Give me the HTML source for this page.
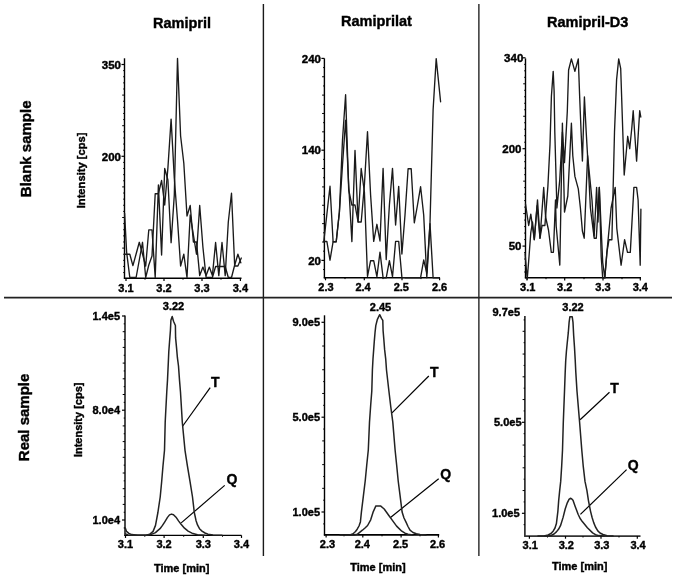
<!DOCTYPE html>
<html><head><meta charset="utf-8"><style>
html,body{margin:0;padding:0;background:#fff;}
svg{display:block;will-change:transform;font-family:"Liberation Sans",sans-serif;}
text{stroke:#000;stroke-width:0.4px;}
</style></head><body>
<svg width="676" height="579" viewBox="0 0 676 579">
<rect width="676" height="579" fill="#fff"/>
<line x1="263.40" y1="4.00" x2="263.40" y2="556.00" stroke="#1a1a1a" stroke-width="1.4"/>
<line x1="478.87" y1="4.00" x2="478.87" y2="556.00" stroke="#333" stroke-width="1.5"/>
<line x1="4.00" y1="297.65" x2="672.00" y2="297.65" stroke="#222" stroke-width="1.6"/>
<text x="153.00" y="28.00" font-size="14.5" text-anchor="start" font-weight="bold" >Ramipril</text>
<text x="341.00" y="26.00" font-size="14.5" text-anchor="start" font-weight="bold" >Ramiprilat</text>
<text x="547.00" y="27.00" font-size="14.5" text-anchor="start" font-weight="bold" >Ramipril-D3</text>
<text transform="translate(31.2,197.2) rotate(-90)" font-size="15" font-weight="bold">Blank sample</text>
<text transform="translate(28.6,461.2) rotate(-90)" font-size="15" font-weight="bold">Real sample</text>
<text transform="translate(85,208.3) rotate(-90)" font-size="11.2" font-weight="bold">Intensity [cps]</text>
<text transform="translate(82,457.1) rotate(-90)" font-size="11" font-weight="bold">Intensity [cps]</text>
<line x1="124.50" y1="58.30" x2="124.50" y2="278.90" stroke="#000" stroke-width="1.4"/>
<line x1="123.90" y1="278.30" x2="241.50" y2="278.30" stroke="#000" stroke-width="1.4"/>
<line x1="126.00" y1="278.30" x2="126.00" y2="280.90" stroke="#000" stroke-width="1.2"/>
<line x1="164.00" y1="278.30" x2="164.00" y2="280.90" stroke="#000" stroke-width="1.2"/>
<line x1="202.00" y1="278.30" x2="202.00" y2="280.90" stroke="#000" stroke-width="1.2"/>
<line x1="240.40" y1="278.30" x2="240.40" y2="280.90" stroke="#000" stroke-width="1.2"/>
<line x1="145.00" y1="278.30" x2="145.00" y2="279.70" stroke="#000" stroke-width="1.0"/>
<line x1="183.00" y1="278.30" x2="183.00" y2="279.70" stroke="#000" stroke-width="1.0"/>
<line x1="221.00" y1="278.30" x2="221.00" y2="279.70" stroke="#000" stroke-width="1.0"/>
<line x1="121.50" y1="64.50" x2="124.50" y2="64.50" stroke="#000" stroke-width="1.2"/>
<line x1="121.50" y1="156.30" x2="124.50" y2="156.30" stroke="#000" stroke-width="1.2"/>
<line x1="123.20" y1="272.58" x2="124.50" y2="272.58" stroke="#000" stroke-width="1.0"/>
<line x1="123.20" y1="266.46" x2="124.50" y2="266.46" stroke="#000" stroke-width="1.0"/>
<line x1="123.20" y1="260.34" x2="124.50" y2="260.34" stroke="#000" stroke-width="1.0"/>
<line x1="123.20" y1="254.22" x2="124.50" y2="254.22" stroke="#000" stroke-width="1.0"/>
<line x1="122.20" y1="248.10" x2="124.50" y2="248.10" stroke="#000" stroke-width="1.0"/>
<line x1="123.20" y1="241.98" x2="124.50" y2="241.98" stroke="#000" stroke-width="1.0"/>
<line x1="123.20" y1="235.86" x2="124.50" y2="235.86" stroke="#000" stroke-width="1.0"/>
<line x1="123.20" y1="229.74" x2="124.50" y2="229.74" stroke="#000" stroke-width="1.0"/>
<line x1="123.20" y1="223.62" x2="124.50" y2="223.62" stroke="#000" stroke-width="1.0"/>
<line x1="122.20" y1="217.50" x2="124.50" y2="217.50" stroke="#000" stroke-width="1.0"/>
<line x1="123.20" y1="211.38" x2="124.50" y2="211.38" stroke="#000" stroke-width="1.0"/>
<line x1="123.20" y1="205.26" x2="124.50" y2="205.26" stroke="#000" stroke-width="1.0"/>
<line x1="123.20" y1="199.14" x2="124.50" y2="199.14" stroke="#000" stroke-width="1.0"/>
<line x1="123.20" y1="193.02" x2="124.50" y2="193.02" stroke="#000" stroke-width="1.0"/>
<line x1="122.20" y1="186.90" x2="124.50" y2="186.90" stroke="#000" stroke-width="1.0"/>
<line x1="123.20" y1="180.78" x2="124.50" y2="180.78" stroke="#000" stroke-width="1.0"/>
<line x1="123.20" y1="174.66" x2="124.50" y2="174.66" stroke="#000" stroke-width="1.0"/>
<line x1="123.20" y1="168.54" x2="124.50" y2="168.54" stroke="#000" stroke-width="1.0"/>
<line x1="123.20" y1="162.42" x2="124.50" y2="162.42" stroke="#000" stroke-width="1.0"/>
<line x1="123.20" y1="150.18" x2="124.50" y2="150.18" stroke="#000" stroke-width="1.0"/>
<line x1="123.20" y1="144.06" x2="124.50" y2="144.06" stroke="#000" stroke-width="1.0"/>
<line x1="123.20" y1="137.94" x2="124.50" y2="137.94" stroke="#000" stroke-width="1.0"/>
<line x1="123.20" y1="131.82" x2="124.50" y2="131.82" stroke="#000" stroke-width="1.0"/>
<line x1="122.20" y1="125.70" x2="124.50" y2="125.70" stroke="#000" stroke-width="1.0"/>
<line x1="123.20" y1="119.58" x2="124.50" y2="119.58" stroke="#000" stroke-width="1.0"/>
<line x1="123.20" y1="113.46" x2="124.50" y2="113.46" stroke="#000" stroke-width="1.0"/>
<line x1="123.20" y1="107.34" x2="124.50" y2="107.34" stroke="#000" stroke-width="1.0"/>
<line x1="123.20" y1="101.22" x2="124.50" y2="101.22" stroke="#000" stroke-width="1.0"/>
<line x1="122.20" y1="95.10" x2="124.50" y2="95.10" stroke="#000" stroke-width="1.0"/>
<line x1="123.20" y1="88.98" x2="124.50" y2="88.98" stroke="#000" stroke-width="1.0"/>
<line x1="123.20" y1="82.86" x2="124.50" y2="82.86" stroke="#000" stroke-width="1.0"/>
<line x1="123.20" y1="76.74" x2="124.50" y2="76.74" stroke="#000" stroke-width="1.0"/>
<line x1="123.20" y1="70.62" x2="124.50" y2="70.62" stroke="#000" stroke-width="1.0"/>
<text x="126.00" y="291.80" font-size="11" text-anchor="middle" font-weight="bold" >3.1</text>
<text x="164.00" y="291.80" font-size="11" text-anchor="middle" font-weight="bold" >3.2</text>
<text x="202.00" y="291.80" font-size="11" text-anchor="middle" font-weight="bold" >3.3</text>
<text x="240.40" y="291.80" font-size="11" text-anchor="middle" font-weight="bold" >3.4</text>
<text x="121.00" y="68.70" font-size="11.5" text-anchor="end" font-weight="bold" >350</text>
<text x="121.00" y="160.50" font-size="11.5" text-anchor="end" font-weight="bold" >200</text>
<line x1="324.40" y1="58.40" x2="324.40" y2="278.30" stroke="#000" stroke-width="1.4"/>
<line x1="323.80" y1="277.70" x2="440.00" y2="277.70" stroke="#000" stroke-width="1.4"/>
<line x1="325.50" y1="277.70" x2="325.50" y2="280.30" stroke="#000" stroke-width="1.2"/>
<line x1="364.30" y1="277.70" x2="364.30" y2="280.30" stroke="#000" stroke-width="1.2"/>
<line x1="402.00" y1="277.70" x2="402.00" y2="280.30" stroke="#000" stroke-width="1.2"/>
<line x1="439.60" y1="277.70" x2="439.60" y2="280.30" stroke="#000" stroke-width="1.2"/>
<line x1="345.00" y1="277.70" x2="345.00" y2="279.10" stroke="#000" stroke-width="1.0"/>
<line x1="383.00" y1="277.70" x2="383.00" y2="279.10" stroke="#000" stroke-width="1.0"/>
<line x1="421.00" y1="277.70" x2="421.00" y2="279.10" stroke="#000" stroke-width="1.0"/>
<line x1="321.40" y1="58.40" x2="324.40" y2="58.40" stroke="#000" stroke-width="1.2"/>
<line x1="321.40" y1="150.20" x2="324.40" y2="150.20" stroke="#000" stroke-width="1.2"/>
<line x1="321.40" y1="260.40" x2="324.40" y2="260.40" stroke="#000" stroke-width="1.2"/>
<line x1="323.10" y1="269.54" x2="324.40" y2="269.54" stroke="#000" stroke-width="1.0"/>
<line x1="323.10" y1="251.18" x2="324.40" y2="251.18" stroke="#000" stroke-width="1.0"/>
<line x1="322.10" y1="242.00" x2="324.40" y2="242.00" stroke="#000" stroke-width="1.0"/>
<line x1="323.10" y1="232.82" x2="324.40" y2="232.82" stroke="#000" stroke-width="1.0"/>
<line x1="322.10" y1="223.64" x2="324.40" y2="223.64" stroke="#000" stroke-width="1.0"/>
<line x1="323.10" y1="214.46" x2="324.40" y2="214.46" stroke="#000" stroke-width="1.0"/>
<line x1="322.10" y1="205.28" x2="324.40" y2="205.28" stroke="#000" stroke-width="1.0"/>
<line x1="323.10" y1="196.10" x2="324.40" y2="196.10" stroke="#000" stroke-width="1.0"/>
<line x1="322.10" y1="186.92" x2="324.40" y2="186.92" stroke="#000" stroke-width="1.0"/>
<line x1="323.10" y1="177.74" x2="324.40" y2="177.74" stroke="#000" stroke-width="1.0"/>
<line x1="322.10" y1="168.56" x2="324.40" y2="168.56" stroke="#000" stroke-width="1.0"/>
<line x1="323.10" y1="159.38" x2="324.40" y2="159.38" stroke="#000" stroke-width="1.0"/>
<line x1="323.10" y1="141.02" x2="324.40" y2="141.02" stroke="#000" stroke-width="1.0"/>
<line x1="322.10" y1="131.84" x2="324.40" y2="131.84" stroke="#000" stroke-width="1.0"/>
<line x1="323.10" y1="122.66" x2="324.40" y2="122.66" stroke="#000" stroke-width="1.0"/>
<line x1="322.10" y1="113.48" x2="324.40" y2="113.48" stroke="#000" stroke-width="1.0"/>
<line x1="323.10" y1="104.30" x2="324.40" y2="104.30" stroke="#000" stroke-width="1.0"/>
<line x1="322.10" y1="95.12" x2="324.40" y2="95.12" stroke="#000" stroke-width="1.0"/>
<line x1="323.10" y1="85.94" x2="324.40" y2="85.94" stroke="#000" stroke-width="1.0"/>
<line x1="322.10" y1="76.76" x2="324.40" y2="76.76" stroke="#000" stroke-width="1.0"/>
<line x1="323.10" y1="67.58" x2="324.40" y2="67.58" stroke="#000" stroke-width="1.0"/>
<text x="326.00" y="290.80" font-size="11" text-anchor="middle" font-weight="bold" >2.3</text>
<text x="363.10" y="290.80" font-size="11" text-anchor="middle" font-weight="bold" >2.4</text>
<text x="401.30" y="290.80" font-size="11" text-anchor="middle" font-weight="bold" >2.5</text>
<text x="439.60" y="290.80" font-size="11" text-anchor="middle" font-weight="bold" >2.6</text>
<text x="321.00" y="62.60" font-size="11.5" text-anchor="end" font-weight="bold" >240</text>
<text x="321.00" y="154.40" font-size="11.5" text-anchor="end" font-weight="bold" >140</text>
<text x="321.00" y="264.60" font-size="11.5" text-anchor="end" font-weight="bold" >20</text>
<line x1="525.50" y1="58.40" x2="525.50" y2="278.40" stroke="#000" stroke-width="1.4"/>
<line x1="524.90" y1="277.80" x2="641.00" y2="277.80" stroke="#000" stroke-width="1.4"/>
<line x1="527.00" y1="277.80" x2="527.00" y2="280.40" stroke="#000" stroke-width="1.2"/>
<line x1="564.70" y1="277.80" x2="564.70" y2="280.40" stroke="#000" stroke-width="1.2"/>
<line x1="603.00" y1="277.80" x2="603.00" y2="280.40" stroke="#000" stroke-width="1.2"/>
<line x1="640.30" y1="277.80" x2="640.30" y2="280.40" stroke="#000" stroke-width="1.2"/>
<line x1="546.00" y1="277.80" x2="546.00" y2="279.20" stroke="#000" stroke-width="1.0"/>
<line x1="584.00" y1="277.80" x2="584.00" y2="279.20" stroke="#000" stroke-width="1.0"/>
<line x1="622.00" y1="277.80" x2="622.00" y2="279.20" stroke="#000" stroke-width="1.0"/>
<line x1="522.50" y1="57.80" x2="525.50" y2="57.80" stroke="#000" stroke-width="1.2"/>
<line x1="522.50" y1="148.70" x2="525.50" y2="148.70" stroke="#000" stroke-width="1.2"/>
<line x1="522.50" y1="246.10" x2="525.50" y2="246.10" stroke="#000" stroke-width="1.2"/>
<line x1="524.20" y1="272.01" x2="525.50" y2="272.01" stroke="#000" stroke-width="1.0"/>
<line x1="524.20" y1="265.52" x2="525.50" y2="265.52" stroke="#000" stroke-width="1.0"/>
<line x1="524.20" y1="259.03" x2="525.50" y2="259.03" stroke="#000" stroke-width="1.0"/>
<line x1="524.20" y1="252.54" x2="525.50" y2="252.54" stroke="#000" stroke-width="1.0"/>
<line x1="524.20" y1="239.56" x2="525.50" y2="239.56" stroke="#000" stroke-width="1.0"/>
<line x1="524.20" y1="233.07" x2="525.50" y2="233.07" stroke="#000" stroke-width="1.0"/>
<line x1="524.20" y1="226.58" x2="525.50" y2="226.58" stroke="#000" stroke-width="1.0"/>
<line x1="524.20" y1="220.09" x2="525.50" y2="220.09" stroke="#000" stroke-width="1.0"/>
<line x1="523.20" y1="213.60" x2="525.50" y2="213.60" stroke="#000" stroke-width="1.0"/>
<line x1="524.20" y1="207.11" x2="525.50" y2="207.11" stroke="#000" stroke-width="1.0"/>
<line x1="524.20" y1="200.62" x2="525.50" y2="200.62" stroke="#000" stroke-width="1.0"/>
<line x1="524.20" y1="194.13" x2="525.50" y2="194.13" stroke="#000" stroke-width="1.0"/>
<line x1="524.20" y1="187.64" x2="525.50" y2="187.64" stroke="#000" stroke-width="1.0"/>
<line x1="523.20" y1="181.15" x2="525.50" y2="181.15" stroke="#000" stroke-width="1.0"/>
<line x1="524.20" y1="174.66" x2="525.50" y2="174.66" stroke="#000" stroke-width="1.0"/>
<line x1="524.20" y1="168.17" x2="525.50" y2="168.17" stroke="#000" stroke-width="1.0"/>
<line x1="524.20" y1="161.68" x2="525.50" y2="161.68" stroke="#000" stroke-width="1.0"/>
<line x1="524.20" y1="155.19" x2="525.50" y2="155.19" stroke="#000" stroke-width="1.0"/>
<line x1="524.20" y1="142.21" x2="525.50" y2="142.21" stroke="#000" stroke-width="1.0"/>
<line x1="524.20" y1="135.72" x2="525.50" y2="135.72" stroke="#000" stroke-width="1.0"/>
<line x1="524.20" y1="129.23" x2="525.50" y2="129.23" stroke="#000" stroke-width="1.0"/>
<line x1="524.20" y1="122.74" x2="525.50" y2="122.74" stroke="#000" stroke-width="1.0"/>
<line x1="523.20" y1="116.25" x2="525.50" y2="116.25" stroke="#000" stroke-width="1.0"/>
<line x1="524.20" y1="109.76" x2="525.50" y2="109.76" stroke="#000" stroke-width="1.0"/>
<line x1="524.20" y1="103.27" x2="525.50" y2="103.27" stroke="#000" stroke-width="1.0"/>
<line x1="524.20" y1="96.78" x2="525.50" y2="96.78" stroke="#000" stroke-width="1.0"/>
<line x1="524.20" y1="90.29" x2="525.50" y2="90.29" stroke="#000" stroke-width="1.0"/>
<line x1="523.20" y1="83.80" x2="525.50" y2="83.80" stroke="#000" stroke-width="1.0"/>
<line x1="524.20" y1="77.31" x2="525.50" y2="77.31" stroke="#000" stroke-width="1.0"/>
<line x1="524.20" y1="70.82" x2="525.50" y2="70.82" stroke="#000" stroke-width="1.0"/>
<line x1="524.20" y1="64.33" x2="525.50" y2="64.33" stroke="#000" stroke-width="1.0"/>
<text x="527.70" y="290.80" font-size="11" text-anchor="middle" font-weight="bold" >3.1</text>
<text x="564.70" y="290.80" font-size="11" text-anchor="middle" font-weight="bold" >3.2</text>
<text x="603.00" y="290.80" font-size="11" text-anchor="middle" font-weight="bold" >3.3</text>
<text x="640.30" y="290.80" font-size="11" text-anchor="middle" font-weight="bold" >3.4</text>
<text x="523.30" y="62.00" font-size="11.5" text-anchor="end" font-weight="bold" >340</text>
<text x="521.50" y="152.90" font-size="11.5" text-anchor="end" font-weight="bold" >200</text>
<text x="521.50" y="250.30" font-size="11.5" text-anchor="end" font-weight="bold" >50</text>
<line x1="125.00" y1="315.50" x2="125.00" y2="535.95" stroke="#000" stroke-width="1.4"/>
<line x1="124.40" y1="535.35" x2="241.50" y2="535.35" stroke="#000" stroke-width="1.3"/>
<line x1="125.50" y1="535.35" x2="125.50" y2="537.95" stroke="#000" stroke-width="1.2"/>
<line x1="164.10" y1="535.35" x2="164.10" y2="537.95" stroke="#000" stroke-width="1.2"/>
<line x1="203.30" y1="535.35" x2="203.30" y2="537.95" stroke="#000" stroke-width="1.2"/>
<line x1="241.50" y1="535.35" x2="241.50" y2="537.95" stroke="#000" stroke-width="1.2"/>
<line x1="144.80" y1="535.35" x2="144.80" y2="536.75" stroke="#000" stroke-width="1.0"/>
<line x1="183.70" y1="535.35" x2="183.70" y2="536.75" stroke="#000" stroke-width="1.0"/>
<line x1="222.50" y1="535.35" x2="222.50" y2="536.75" stroke="#000" stroke-width="1.0"/>
<line x1="122.00" y1="316.00" x2="125.00" y2="316.00" stroke="#000" stroke-width="1.2"/>
<line x1="122.00" y1="410.20" x2="125.00" y2="410.20" stroke="#000" stroke-width="1.2"/>
<line x1="122.00" y1="520.00" x2="125.00" y2="520.00" stroke="#000" stroke-width="1.2"/>
<line x1="123.70" y1="323.85" x2="125.00" y2="323.85" stroke="#000" stroke-width="1.0"/>
<line x1="122.70" y1="331.70" x2="125.00" y2="331.70" stroke="#000" stroke-width="1.0"/>
<line x1="123.70" y1="339.55" x2="125.00" y2="339.55" stroke="#000" stroke-width="1.0"/>
<line x1="122.70" y1="347.40" x2="125.00" y2="347.40" stroke="#000" stroke-width="1.0"/>
<line x1="123.70" y1="355.25" x2="125.00" y2="355.25" stroke="#000" stroke-width="1.0"/>
<line x1="122.70" y1="363.10" x2="125.00" y2="363.10" stroke="#000" stroke-width="1.0"/>
<line x1="123.70" y1="370.95" x2="125.00" y2="370.95" stroke="#000" stroke-width="1.0"/>
<line x1="122.70" y1="378.80" x2="125.00" y2="378.80" stroke="#000" stroke-width="1.0"/>
<line x1="123.70" y1="386.65" x2="125.00" y2="386.65" stroke="#000" stroke-width="1.0"/>
<line x1="122.70" y1="394.50" x2="125.00" y2="394.50" stroke="#000" stroke-width="1.0"/>
<line x1="123.70" y1="402.35" x2="125.00" y2="402.35" stroke="#000" stroke-width="1.0"/>
<line x1="123.70" y1="418.05" x2="125.00" y2="418.05" stroke="#000" stroke-width="1.0"/>
<line x1="122.70" y1="425.90" x2="125.00" y2="425.90" stroke="#000" stroke-width="1.0"/>
<line x1="123.70" y1="433.75" x2="125.00" y2="433.75" stroke="#000" stroke-width="1.0"/>
<line x1="122.70" y1="441.60" x2="125.00" y2="441.60" stroke="#000" stroke-width="1.0"/>
<line x1="123.70" y1="449.45" x2="125.00" y2="449.45" stroke="#000" stroke-width="1.0"/>
<line x1="122.70" y1="457.30" x2="125.00" y2="457.30" stroke="#000" stroke-width="1.0"/>
<line x1="123.70" y1="465.15" x2="125.00" y2="465.15" stroke="#000" stroke-width="1.0"/>
<line x1="122.70" y1="473.00" x2="125.00" y2="473.00" stroke="#000" stroke-width="1.0"/>
<line x1="123.70" y1="480.85" x2="125.00" y2="480.85" stroke="#000" stroke-width="1.0"/>
<line x1="122.70" y1="488.70" x2="125.00" y2="488.70" stroke="#000" stroke-width="1.0"/>
<line x1="123.70" y1="496.55" x2="125.00" y2="496.55" stroke="#000" stroke-width="1.0"/>
<line x1="122.70" y1="504.40" x2="125.00" y2="504.40" stroke="#000" stroke-width="1.0"/>
<line x1="123.70" y1="512.25" x2="125.00" y2="512.25" stroke="#000" stroke-width="1.0"/>
<line x1="123.70" y1="527.95" x2="125.00" y2="527.95" stroke="#000" stroke-width="1.0"/>
<text x="125.50" y="548.20" font-size="11" text-anchor="middle" font-weight="bold" >3.1</text>
<text x="164.10" y="548.20" font-size="11" text-anchor="middle" font-weight="bold" >3.2</text>
<text x="203.30" y="548.20" font-size="11" text-anchor="middle" font-weight="bold" >3.3</text>
<text x="241.50" y="548.20" font-size="11" text-anchor="middle" font-weight="bold" >3.4</text>
<text x="120.00" y="320.00" font-size="11" text-anchor="end" font-weight="bold" >1.4e5</text>
<text x="120.00" y="414.20" font-size="11" text-anchor="end" font-weight="bold" >8.0e4</text>
<text x="120.00" y="524.00" font-size="11" text-anchor="end" font-weight="bold" >1.0e4</text>
<text x="173.50" y="310.20" font-size="11" text-anchor="middle" font-weight="bold" >3.22</text>
<text x="154.00" y="571.60" font-size="11" text-anchor="start" font-weight="bold" >Time [min]</text>
<line x1="324.50" y1="315.30" x2="324.50" y2="535.55" stroke="#000" stroke-width="1.4"/>
<line x1="323.90" y1="534.95" x2="439.20" y2="534.95" stroke="#000" stroke-width="1.7"/>
<line x1="326.10" y1="534.95" x2="326.10" y2="537.55" stroke="#000" stroke-width="1.2"/>
<line x1="362.80" y1="534.95" x2="362.80" y2="537.55" stroke="#000" stroke-width="1.2"/>
<line x1="401.10" y1="534.95" x2="401.10" y2="537.55" stroke="#000" stroke-width="1.2"/>
<line x1="438.40" y1="534.95" x2="438.40" y2="537.55" stroke="#000" stroke-width="1.2"/>
<line x1="344.00" y1="534.95" x2="344.00" y2="536.35" stroke="#000" stroke-width="1.0"/>
<line x1="382.00" y1="534.95" x2="382.00" y2="536.35" stroke="#000" stroke-width="1.0"/>
<line x1="420.00" y1="534.95" x2="420.00" y2="536.35" stroke="#000" stroke-width="1.0"/>
<line x1="321.50" y1="322.30" x2="324.50" y2="322.30" stroke="#000" stroke-width="1.2"/>
<line x1="321.50" y1="417.20" x2="324.50" y2="417.20" stroke="#000" stroke-width="1.2"/>
<line x1="321.50" y1="512.00" x2="324.50" y2="512.00" stroke="#000" stroke-width="1.2"/>
<line x1="323.20" y1="334.16" x2="324.50" y2="334.16" stroke="#000" stroke-width="1.0"/>
<line x1="322.20" y1="346.02" x2="324.50" y2="346.02" stroke="#000" stroke-width="1.0"/>
<line x1="323.20" y1="357.88" x2="324.50" y2="357.88" stroke="#000" stroke-width="1.0"/>
<line x1="322.20" y1="369.74" x2="324.50" y2="369.74" stroke="#000" stroke-width="1.0"/>
<line x1="323.20" y1="381.60" x2="324.50" y2="381.60" stroke="#000" stroke-width="1.0"/>
<line x1="322.20" y1="393.46" x2="324.50" y2="393.46" stroke="#000" stroke-width="1.0"/>
<line x1="323.20" y1="405.32" x2="324.50" y2="405.32" stroke="#000" stroke-width="1.0"/>
<line x1="323.20" y1="429.04" x2="324.50" y2="429.04" stroke="#000" stroke-width="1.0"/>
<line x1="322.20" y1="440.90" x2="324.50" y2="440.90" stroke="#000" stroke-width="1.0"/>
<line x1="323.20" y1="452.76" x2="324.50" y2="452.76" stroke="#000" stroke-width="1.0"/>
<line x1="322.20" y1="464.62" x2="324.50" y2="464.62" stroke="#000" stroke-width="1.0"/>
<line x1="323.20" y1="476.48" x2="324.50" y2="476.48" stroke="#000" stroke-width="1.0"/>
<line x1="322.20" y1="488.34" x2="324.50" y2="488.34" stroke="#000" stroke-width="1.0"/>
<line x1="323.20" y1="500.20" x2="324.50" y2="500.20" stroke="#000" stroke-width="1.0"/>
<line x1="323.20" y1="523.92" x2="324.50" y2="523.92" stroke="#000" stroke-width="1.0"/>
<text x="327.50" y="547.80" font-size="11" text-anchor="middle" font-weight="bold" >2.3</text>
<text x="362.30" y="547.80" font-size="11" text-anchor="middle" font-weight="bold" >2.4</text>
<text x="400.60" y="547.80" font-size="11" text-anchor="middle" font-weight="bold" >2.5</text>
<text x="437.60" y="547.80" font-size="11" text-anchor="middle" font-weight="bold" >2.6</text>
<text x="320.00" y="326.30" font-size="11" text-anchor="end" font-weight="bold" >9.0e5</text>
<text x="320.00" y="421.20" font-size="11" text-anchor="end" font-weight="bold" >5.0e5</text>
<text x="320.00" y="516.00" font-size="11" text-anchor="end" font-weight="bold" >1.0e5</text>
<text x="380.50" y="310.50" font-size="11" text-anchor="middle" font-weight="bold" >2.45</text>
<text x="350.20" y="571.30" font-size="11" text-anchor="start" font-weight="bold" >Time [min]</text>
<line x1="524.90" y1="316.00" x2="524.90" y2="536.70" stroke="#000" stroke-width="1.4"/>
<line x1="524.30" y1="536.10" x2="640.50" y2="536.10" stroke="#333" stroke-width="1.8"/>
<line x1="529.40" y1="536.10" x2="529.40" y2="538.70" stroke="#000" stroke-width="1.2"/>
<line x1="565.50" y1="536.10" x2="565.50" y2="538.70" stroke="#000" stroke-width="1.2"/>
<line x1="601.00" y1="536.10" x2="601.00" y2="538.70" stroke="#000" stroke-width="1.2"/>
<line x1="637.30" y1="536.10" x2="637.30" y2="538.70" stroke="#000" stroke-width="1.2"/>
<line x1="547.50" y1="536.10" x2="547.50" y2="537.50" stroke="#000" stroke-width="1.0"/>
<line x1="583.00" y1="536.10" x2="583.00" y2="537.50" stroke="#000" stroke-width="1.0"/>
<line x1="619.00" y1="536.10" x2="619.00" y2="537.50" stroke="#000" stroke-width="1.0"/>
<line x1="521.90" y1="422.30" x2="524.90" y2="422.30" stroke="#000" stroke-width="1.2"/>
<line x1="521.90" y1="513.30" x2="524.90" y2="513.30" stroke="#000" stroke-width="1.2"/>
<line x1="523.60" y1="319.93" x2="524.90" y2="319.93" stroke="#000" stroke-width="1.0"/>
<line x1="522.60" y1="331.30" x2="524.90" y2="331.30" stroke="#000" stroke-width="1.0"/>
<line x1="523.60" y1="342.68" x2="524.90" y2="342.68" stroke="#000" stroke-width="1.0"/>
<line x1="522.60" y1="354.05" x2="524.90" y2="354.05" stroke="#000" stroke-width="1.0"/>
<line x1="523.60" y1="365.43" x2="524.90" y2="365.43" stroke="#000" stroke-width="1.0"/>
<line x1="522.60" y1="376.80" x2="524.90" y2="376.80" stroke="#000" stroke-width="1.0"/>
<line x1="523.60" y1="388.18" x2="524.90" y2="388.18" stroke="#000" stroke-width="1.0"/>
<line x1="522.60" y1="399.55" x2="524.90" y2="399.55" stroke="#000" stroke-width="1.0"/>
<line x1="523.60" y1="410.93" x2="524.90" y2="410.93" stroke="#000" stroke-width="1.0"/>
<line x1="523.60" y1="433.68" x2="524.90" y2="433.68" stroke="#000" stroke-width="1.0"/>
<line x1="522.60" y1="445.05" x2="524.90" y2="445.05" stroke="#000" stroke-width="1.0"/>
<line x1="523.60" y1="456.43" x2="524.90" y2="456.43" stroke="#000" stroke-width="1.0"/>
<line x1="522.60" y1="467.80" x2="524.90" y2="467.80" stroke="#000" stroke-width="1.0"/>
<line x1="523.60" y1="479.18" x2="524.90" y2="479.18" stroke="#000" stroke-width="1.0"/>
<line x1="522.60" y1="490.55" x2="524.90" y2="490.55" stroke="#000" stroke-width="1.0"/>
<line x1="523.60" y1="501.93" x2="524.90" y2="501.93" stroke="#000" stroke-width="1.0"/>
<line x1="523.60" y1="524.67" x2="524.90" y2="524.67" stroke="#000" stroke-width="1.0"/>
<text x="530.20" y="549.20" font-size="11" text-anchor="middle" font-weight="bold" >3.1</text>
<text x="566.30" y="549.20" font-size="11" text-anchor="middle" font-weight="bold" >3.2</text>
<text x="601.80" y="549.20" font-size="11" text-anchor="middle" font-weight="bold" >3.3</text>
<text x="638.10" y="549.20" font-size="11" text-anchor="middle" font-weight="bold" >3.4</text>
<text x="521.50" y="426.30" font-size="11" text-anchor="end" font-weight="bold" >5.0e5</text>
<text x="519.60" y="517.30" font-size="11" text-anchor="end" font-weight="bold" >1.0e5</text>
<text x="520.00" y="315.80" font-size="11" text-anchor="end" font-weight="bold" >9.7e5</text>
<text x="573.00" y="311.40" font-size="11" text-anchor="middle" font-weight="bold" >3.22</text>
<text x="552.00" y="570.40" font-size="11" text-anchor="start" font-weight="bold" >Time [min]</text>
<text x="211.00" y="386.60" font-size="14" text-anchor="start" font-weight="bold" >T</text>
<text x="226.50" y="484.20" font-size="14" text-anchor="start" font-weight="bold" >Q</text>
<text x="430.00" y="376.60" font-size="14" text-anchor="start" font-weight="bold" >T</text>
<text x="440.20" y="479.00" font-size="14" text-anchor="start" font-weight="bold" >Q</text>
<text x="610.30" y="393.20" font-size="14" text-anchor="start" font-weight="bold" >T</text>
<text x="627.80" y="470.30" font-size="14" text-anchor="start" font-weight="bold" >Q</text>
<line x1="182.40" y1="426.50" x2="210.20" y2="387.60" stroke="#000" stroke-width="1.2"/>
<line x1="181.20" y1="522.90" x2="224.70" y2="485.40" stroke="#000" stroke-width="1.2"/>
<line x1="392.00" y1="412.80" x2="428.80" y2="376.00" stroke="#000" stroke-width="1.2"/>
<line x1="390.50" y1="517.50" x2="438.70" y2="478.80" stroke="#000" stroke-width="1.2"/>
<line x1="580.10" y1="419.80" x2="609.50" y2="392.30" stroke="#000" stroke-width="1.2"/>
<line x1="580.40" y1="514.40" x2="626.60" y2="469.60" stroke="#000" stroke-width="1.2"/>
<polyline points="124.6,254.2 126.6,254.2 129.8,254.2 132.9,265.6 136.1,254.0 139.3,242.3 142.5,254.0 145.7,266.0 148.8,229.8 152.0,229.8 155.2,277.5 158.4,185.0 161.6,255.0 164.7,168.4 167.9,180.0 171.1,242.7 174.3,195.0 177.5,58.4 180.6,136.0 183.8,163.0 187.0,216.0 190.2,205.5 193.4,242.0 196.5,242.0 199.7,275.6 202.9,267.1 206.1,275.6 209.3,267.1 212.4,275.6 215.6,242.5 218.8,275.6 222.0,242.5 225.2,275.6 228.3,222.0 231.5,193.2 234.7,266.0 237.9,266.0 241.3,258.0" fill="none" stroke="#1a1a1a" stroke-width="1.35" stroke-linejoin="round" stroke-linecap="round"/>
<polyline points="124.6,213.4 126.6,252.0 129.8,277.5 132.9,277.5 136.1,277.5 139.3,260.0 142.5,242.3 145.7,277.5 148.8,265.0 152.0,256.0 155.2,193.7 158.4,193.7 161.6,180.5 164.7,205.0 167.9,168.0 171.1,119.1 174.3,178.0 177.5,220.0 180.6,266.0 183.8,254.2 187.0,277.5 190.2,215.0 193.4,235.0 196.5,254.2 199.7,205.5 202.9,247.0 206.1,277.5 209.3,277.5 212.4,277.5 215.6,266.5 218.8,266.5 222.0,266.5 225.2,266.5 228.3,277.5 231.5,277.5 234.7,265.0 237.9,254.2 240.8,262.8" fill="none" stroke="#1a1a1a" stroke-width="1.35" stroke-linejoin="round" stroke-linecap="round"/>
<polyline points="323.8,241.5 326.9,241.5 330.0,260.2 333.1,241.7 336.2,241.7 339.4,212.0 342.5,140.0 345.6,94.7 348.7,190.0 351.9,205.0 355.0,205.0 358.1,222.0 361.2,222.0 364.4,185.0 367.5,131.7 370.6,195.0 373.7,241.4 376.9,224.3 380.0,241.0 383.1,168.4 386.2,259.6 389.4,205.0 392.5,168.4 395.6,225.0 398.7,186.4 401.9,254.0 405.0,215.0 408.1,168.7 411.2,168.7 414.3,222.8 417.5,205.0 420.6,186.7 423.7,215.0 426.8,277.7 430.0,223.6 433.1,277.7 436.2,277.7 439.3,277.7" fill="none" stroke="#1a1a1a" stroke-width="1.35" stroke-linejoin="round" stroke-linecap="round"/>
<polyline points="323.8,241.7 326.9,214.0 330.0,186.2 333.1,241.7 336.2,241.7 339.4,212.0 342.5,165.0 345.6,120.3 348.7,185.0 351.9,241.6 355.0,150.4 358.1,222.0 361.2,168.5 364.4,192.0 367.5,276.3 370.6,260.7 373.7,260.7 376.9,276.7 380.0,252.1 383.1,277.8 386.2,277.8 389.4,260.7 392.5,276.7 395.6,241.4 398.7,241.4 401.9,277.4 405.0,277.7 408.1,277.7 411.2,277.7 414.3,277.7 417.5,277.7 420.6,277.7 423.7,260.0 426.8,273.0 430.0,223.6 433.1,110.0 436.2,58.6 440.6,101.8" fill="none" stroke="#1a1a1a" stroke-width="1.35" stroke-linejoin="round" stroke-linecap="round"/>
<polyline points="525.5,204.0 528.7,225.5 530.8,214.1 534.3,239.6 537.1,205.7 540.0,238.2 542.1,225.5 544.9,225.5 547.9,186.1 550.0,144.6 551.4,96.3 553.2,71.4 554.1,90.7 554.8,132.0 556.9,208.0 559.7,180.6 562.4,132.1 564.5,162.6 567.3,111.5 568.6,70.0 571.4,58.9 574.9,71.4 578.3,58.9 579.7,97.6 581.1,132.0 582.4,161.0 584.4,96.9 586.2,132.0 589.0,180.5 590.4,208.0 594.2,238.2 596.3,238.2 599.3,187.4 602.7,262.3 604.8,277.9 606.9,252.4 609.0,239.7 611.9,239.7 614.5,132.0 616.6,79.6 618.7,58.9 620.7,68.6 622.8,132.0 624.2,175.0 627.7,136.3 629.7,148.7 631.8,128.0 633.2,110.7 634.6,132.0 636.6,161.1 639.7,110.7 640.8,117.0" fill="none" stroke="#1a1a1a" stroke-width="1.35" stroke-linejoin="round" stroke-linecap="round"/>
<polyline points="525.1,253.7 527.2,279.2 528.7,260.8 530.8,232.5 532.5,222.0 534.3,239.6 537.5,199.9 540.0,238.2 543.7,187.5 545.6,217.0 548.5,230.0 551.3,252.3 553.4,252.3 555.5,200.0 556.2,226.2 559.8,265.1 562.4,123.2 564.5,212.0 567.8,196.0 571.4,123.2 572.8,155.7 574.9,176.4 578.3,188.9 580.4,208.0 582.4,231.1 584.2,238.2 587.6,155.6 592.0,200.0 594.2,236.0 596.6,187.4 598.0,222.0 599.3,187.4 601.2,256.7 602.7,277.9 604.8,277.9 606.9,252.4 611.1,208.0 615.2,187.4 616.8,228.3 621.1,265.2 624.6,239.7 627.5,252.4 630.3,252.4 633.9,187.4 636.6,187.4 638.1,200.0 640.2,265.2 640.9,209.2" fill="none" stroke="#1a1a1a" stroke-width="1.35" stroke-linejoin="round" stroke-linecap="round"/>
<polyline points="125.3,527.9 126.5,531.4 128.9,533.4 131.8,534.6 137.8,535.2 142.0,535.3 146.0,535.2 149.6,534.3 153.1,531.4 155.5,525.4 157.9,512.5 160.2,497.0 161.7,481.3 163.0,465.8 164.5,450.3 165.2,422.2 165.8,410.2 166.8,391.2 167.5,380.1 168.3,362.9 168.8,351.5 169.5,342.2 170.4,330.7 170.9,320.3 172.2,316.4 173.5,321.3 175.4,325.5 175.6,337.9 176.6,348.4 177.4,357.7 178.5,366.0 179.5,380.1 180.5,392.2 182.3,422.2 185.0,450.3 187.4,465.8 190.0,481.3 192.5,497.0 194.3,512.5 196.0,520.4 197.5,524.9 199.5,528.7 202.0,531.1 205.0,533.0 208.0,534.2 213.0,535.0 222.0,535.3" fill="none" stroke="#222" stroke-width="1.5" stroke-linejoin="round" stroke-linecap="round"/>
<polyline points="125.6,533.9 128.0,534.9 132.0,535.3 146.6,535.3 150.8,534.6 155.5,532.6 157.1,531.1 160.0,528.7 162.5,525.4 164.8,521.8 167.5,517.4 169.5,514.9 171.5,514.1 173.5,514.7 176.0,517.2 178.5,520.9 181.1,524.2 184.5,528.2 188.1,531.1 192.0,533.2 197.5,534.8 205.0,535.3" fill="none" stroke="#222" stroke-width="1.5" stroke-linejoin="round" stroke-linecap="round"/>
<polyline points="340.0,535.0 346.0,535.0 350.0,534.9 353.1,533.8 355.5,531.5 357.2,529.2 359.0,526.0 360.4,521.9 361.4,512.1 363.3,496.6 365.2,481.0 366.7,465.5 368.3,450.0 369.5,422.1 370.7,405.0 371.8,391.0 372.4,370.0 373.0,358.8 373.7,349.4 374.3,341.1 375.1,331.8 375.8,325.6 377.4,319.3 379.7,314.7 381.5,318.3 382.8,320.4 383.1,330.7 383.8,339.0 384.6,349.4 385.7,358.8 386.5,370.0 388.9,391.0 390.8,407.0 392.8,422.1 395.1,450.0 396.7,465.5 398.2,481.0 400.2,496.6 402.1,512.1 404.0,518.0 405.9,521.9 408.0,526.5 410.0,530.2 413.0,532.5 416.3,533.8 420.0,534.6 426.0,535.0" fill="none" stroke="#222" stroke-width="1.5" stroke-linejoin="round" stroke-linecap="round"/>
<polyline points="350.0,535.0 354.0,534.9 357.2,534.3 362.4,530.2 365.0,528.0 367.6,525.5 370.7,519.8 373.3,511.6 375.9,505.9 380.5,505.9 384.2,509.0 388.3,514.7 392.4,520.4 396.6,526.1 401.8,531.2 405.0,533.2 408.0,534.3 413.0,535.0" fill="none" stroke="#222" stroke-width="1.5" stroke-linejoin="round" stroke-linecap="round"/>
<polyline points="538.0,536.1 544.0,535.9 548.1,535.0 551.0,533.5 553.3,530.9 555.0,528.0 556.4,523.6 557.9,511.1 558.7,500.4 559.7,490.4 560.7,481.4 561.7,465.8 562.5,450.3 563.3,422.3 564.5,391.2 565.2,372.1 565.7,360.9 566.4,351.5 567.3,342.2 568.3,332.7 569.1,322.4 569.9,316.7 572.2,316.7 573.0,322.4 573.7,335.9 574.5,347.4 575.2,359.8 575.8,372.1 577.0,391.2 579.6,422.3 581.8,450.3 583.2,465.8 585.0,481.4 586.9,490.4 588.5,500.8 590.5,511.1 592.1,517.5 593.7,522.6 595.5,527.0 597.8,530.9 600.0,533.0 603.0,534.5 607.1,535.8 613.0,536.1" fill="none" stroke="#222" stroke-width="1.5" stroke-linejoin="round" stroke-linecap="round"/>
<polyline points="545.0,536.1 548.0,535.9 551.2,535.5 554.0,534.0 556.4,531.9 558.5,529.3 560.5,525.7 563.1,517.4 565.2,509.0 567.3,502.8 569.0,499.4 570.4,498.2 571.8,498.9 573.0,500.2 575.0,505.9 578.1,514.3 580.0,518.3 582.3,521.6 587.4,527.8 592.6,532.9 595.5,534.7 598.8,535.6 604.0,536.1" fill="none" stroke="#222" stroke-width="1.5" stroke-linejoin="round" stroke-linecap="round"/>
</svg></body></html>
